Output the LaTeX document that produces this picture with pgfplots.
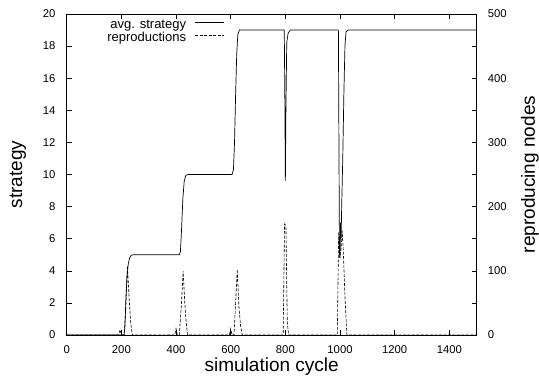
\documentclass[border=0pt]{standalone}
\usepackage{pgfplots}
\pgfplotsset{compat=1.18}
\usepackage{fontspec}
\setmainfont{Liberation Sans}
\pgfplotsset{/pgf/number format/assume math mode=true, /pgf/number format/1000 sep={}}
\begin{document}
\begin{tikzpicture}
\path[use as bounding box] (-66.7bp,-41bp) rectangle (472.3bp,335bp);
\begin{axis}[
  at={(0,0)}, anchor=south west,
  scale only axis, width=410bp, height=321bp,
  xmin=0, xmax=1500, ymin=0, ymax=20,
  xtick={0,200,...,1400}, ytick={0,2,...,20},
  xtick pos=both, ytick pos=left,
  tick align=inside, major tick length=5bp,
  axis line style={line width=0.8pt},
  tick style={line width=0.6pt, black},
  font=\fontsize{11.3bp}{13bp}\selectfont,
  xticklabel style={inner sep=0pt, yshift=-10bp},
  yticklabel style={inner sep=0pt, xshift=-11bp},
  xlabel={simulation cycle}, ylabel={strategy},
  label style={font=\fontsize{19bp}{22bp}\selectfont},
  xlabel style={at={(axis description cs:0.5,-0.0988)}, anchor=center},
  ylabel style={at={(axis description cs:-0.1188,0.5)}, anchor=center},
]
\addplot[black, line width=0.7pt] coordinates {
(0,0) (210,0) (213,0.5) (216,2) (220,3.5) (225,4.4) (230,4.8) (236,4.97) (245,5)
(412,5) (416,5.2) (420,6.5) (425,8.5) (430,9.6) (436,9.95) (445,10)
(605,10) (610,10.3) (614,12) (618,15) (622,17.5) (626,18.7) (632,19)
(796,19) (798,15) (800,9.6) (802,14) (805,18.2) (810,18.8) (818,19)
(994,19) (996,12) (998,5) (1000,4.8) (1002,7) (1004,6) (1006,8) (1010,11) (1014,15) (1018,18) (1022,18.9) (1030,19)
(1500,19)};
\end{axis}
\begin{axis}[
  at={(0,0)}, anchor=south west,
  scale only axis, width=410bp, height=321bp,
  xmin=0, xmax=1500, ymin=0, ymax=500,
  axis x line=none, axis y line*=right,
  ytick={0,100,...,500}, minor y tick num=1,
  tick align=inside, major tick length=5bp, minor tick length=5bp,
  axis line style={line width=0.8pt, -},
  tick style={line width=0.6pt, black},
  font=\fontsize{11.3bp}{13bp}\selectfont,
  yticklabel style={inner sep=0pt, xshift=11bp, anchor=west},
  ylabel={reproducing nodes},
  label style={font=\fontsize{19bp}{22bp}\selectfont},
  ylabel style={at={(axis description cs:1.13,0.5)}, anchor=center, rotate=0},
  legend plot pos=right,
  legend cell align=right,
  legend style={draw=none, fill=none, at={(axis description cs:0.386,0.984)}, anchor=north east,
    inner sep=0pt, row sep=0.8bp, column sep=9bp,
    nodes={inner sep=0pt, text height=9.5bp, text depth=2.7bp},
    font=\fontsize{13bp}{15bp}\selectfont},
  legend image code/.code={\draw[#1] (0bp,3.2bp) -- (29bp,3.2bp);},
]
\addlegendimage{black, line width=0.7pt}
\addlegendentry{avg. strategy}
\addplot[black, line width=0.6pt, dash pattern=on 3bp off 1.5bp] coordinates {
(0,0) (190,0) (195,8) (199,3) (202,0) (210,0) (216,40) (222,108) (228,60) (234,20) (240,0)
(395,0) (400,10) (405,0) (412,0) (420,50) (426,100) (432,50) (437,20) (442,0)
(595,0) (600,10) (605,0) (612,0) (618,50) (624,102) (630,45) (636,15) (642,0)
(792,0) (797,173) (802,170) (807,20) (812,0)
(990,0) (995,160) (999,120) (1004,135) (1008,162) (1012,130) (1018,60) (1025,0)
(1500,0)};
\addlegendentry{reproductions}
\end{axis}
\end{tikzpicture}
\end{document}
